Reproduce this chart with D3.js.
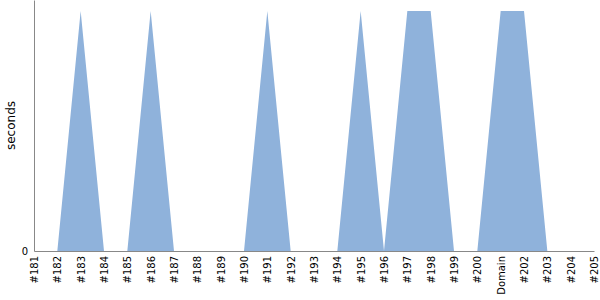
<!DOCTYPE html>
<html><head><meta charset="utf-8">
<script src="https://cdn.jsdelivr.net/npm/d3@7"></script>
<style>body{margin:0;background:#fff}svg{display:block}</style>
</head><body>
<svg id="c" width="600" height="300" font-family="DejaVu Sans"></svg>
<script>
const categories = ["#181","#182","#183","#184","#185","#186","#187","#188","#189","#190","#191","#192","#193","#194","#195","#196","#197","#198","#199","#200","Domain","#202","#203","#204","#205"];
const values = [0,0,1,0,0,1,0,0,0,0,1,0,0,0,1,0,1,1,0,0,1,1,0,0,0];
const yTicks = [0];
const yMax = 1.046;

const FONT = "DejaVu Sans, sans-serif";
const svg = d3.select("#c");
const m = {left:34, right:6, top:0, bottom:49};
const W = 600, H = 300;
const x = d3.scalePoint().domain(categories).range([m.left, W - m.right]);
const y = d3.scaleLinear().domain([0, yMax]).range([H - m.bottom, m.top]);

const area = d3.area().x((d,i)=>x(categories[i])).y0(y(0)).y1(d=>y(d));
svg.append("path").datum(values).attr("d", area).attr("fill", "#8fb2db");

const gx = svg.append("g").attr("transform", `translate(0,${y(0)})`)
  .call(d3.axisBottom(x).tickSize(0).tickPadding(0));
gx.attr("font-family", FONT);
gx.select(".domain").attr("stroke", "#888");
gx.selectAll("text").attr("font-family", FONT).attr("font-size", 10).attr("fill", "#000")
  .attr("text-anchor", "end").attr("dy", "0.35em")
  .attr("transform", "translate(0,5) rotate(-90)").attr("x", 0).attr("y", 0);

const gy = svg.append("g").attr("transform", `translate(${m.left},0)`)
  .call(d3.axisLeft(y).tickValues(yTicks).tickFormat(d3.format("d")).tickSize(0).tickPadding(6));
gy.attr("font-family", FONT);
gy.select(".domain").attr("stroke", "#888");
gy.selectAll("text").attr("font-family", FONT).attr("font-size", 10).attr("fill", "#000");

svg.append("text").attr("transform", `translate(15,${(m.top + H - m.bottom)/2}) rotate(-90)`)
  .attr("font-family", FONT)
  .attr("text-anchor", "middle").attr("font-size", 12).attr("fill", "#000").text("seconds");
</script>
</body></html>
